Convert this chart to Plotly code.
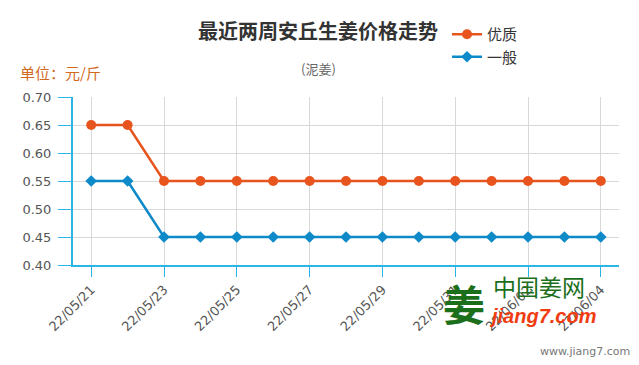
import plotly.graph_objects as go

dates = ["22/05/21", "22/05/22", "22/05/23", "22/05/24", "22/05/25", "22/05/26", "22/05/27",
         "22/05/28", "22/05/29", "22/05/30", "22/05/31", "22/06/01", "22/06/02", "22/06/03", "22/06/04"]
premium = [0.65, 0.65, 0.55, 0.55, 0.55, 0.55, 0.55, 0.55, 0.55, 0.55, 0.55, 0.55, 0.55, 0.55, 0.55]
normal = [0.55, 0.55, 0.45, 0.45, 0.45, 0.45, 0.45, 0.45, 0.45, 0.45, 0.45, 0.45, 0.45, 0.45, 0.45]
y_ticks = [0.40, 0.45, 0.50, 0.55, 0.60, 0.65, 0.70]

FONT = "Noto Sans CJK SC, Noto Sans, sans-serif"
TICKFONT = "DejaVu Sans, Verdana, sans-serif"
L, R, T, B = 73, 619, 97, 265


def px(x):
    return (x - L) / (R - L)


def py(y):
    return (B - y) / (B - T)


fig = go.Figure()
fig.add_trace(go.Scatter(x=dates, y=premium, name="优质", mode="lines+markers",
                         line=dict(color="#e8541e", width=2.5),
                         marker=dict(symbol="circle", size=10, color="#e8541e")))
fig.add_trace(go.Scatter(x=dates, y=normal, name="一般", mode="lines+markers",
                         line=dict(color="#0e8ac8", width=2.5),
                         marker=dict(symbol="diamond", size=9, color="#0e8ac8")))

fig.update_layout(
    width=639, height=365,
    margin=dict(l=L, r=639 - R, t=T, b=365 - B, autoexpand=False),
    paper_bgcolor="white", plot_bgcolor="white",
    font=dict(family=FONT, color="#555"),
    showlegend=True,
    legend=dict(x=px(447), y=py(18), xref="paper", yref="paper", yanchor="top",
                xanchor="left", font=dict(size=15, color="#333"), tracegroupgap=0,
                bgcolor="rgba(0,0,0,0)"),
    title=dict(text="<b>最近两周安丘生姜价格走势</b>", x=318 / 639, xanchor="center",
               y=1 - 32 / 365, yanchor="middle", yref="container", xref="container",
               font=dict(size=20, color="#333", family=FONT)),
    xaxis=dict(type="category", range=[-0.5, 14.5], tickmode="array", tickvals=dates[::2],
               ticktext=dates[::2], tickangle=-45, ticks="outside", ticklen=10,
               tickcolor="#29b6e6", showline=True, linecolor="#29b6e6", linewidth=2,
               showgrid=True, gridcolor="#d9d9d9", gridwidth=1,
               tickfont=dict(size=13, color="#555", family=TICKFONT),
               fixedrange=True),
    yaxis=dict(range=[0.40, 0.70], tickvals=y_ticks, ticktext=[f"{v:.2f}" for v in y_ticks],
               ticks="outside", ticklen=13, tickcolor="#29b6e6", showline=True,
               linecolor="#29b6e6", linewidth=2, showgrid=True, gridcolor="#d9d9d9",
               zeroline=False, tickfont=dict(size=13, color="#555", family=TICKFONT),
               ticklabelstandoff=4, fixedrange=True),
)


def note(text, x, y, size, color, family=FONT, anchor="left"):
    fig.add_annotation(text=text, xref="paper", yref="paper", x=px(x), y=py(y),
                       showarrow=False, font=dict(size=size, color=color, family=family),
                       xanchor=anchor, yanchor="middle")


note("(泥姜)", 318, 68, 13, "#666", anchor="center")
note("单位：元/斤", 18, 72, 15, "#d2691e")
note("中国姜网", 491, 286, 23, "#1b6f1b")
note("<b><i>jiang7.com</i></b>", 487, 316, 20, "#f03c10", "Liberation Sans, sans-serif")
note("<b>姜</b>", 441, 302, 42, "#1b6f1b")
note("www.jiang7.com", 632, 351, 11, "#777", "DejaVu Sans, sans-serif", anchor="right")

fig.write_html("out.html", post_script="document.body.style.margin='0';",
               config={"displayModeBar": False})
